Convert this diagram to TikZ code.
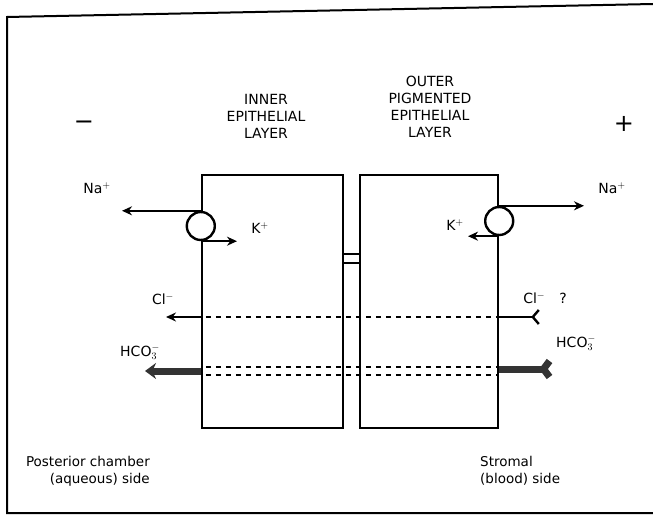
\documentclass[tikz,border=0pt]{standalone}
\usepackage{fontspec}
\setmainfont{DejaVu Sans}
\usepackage{tikz}
\usetikzlibrary{arrows.meta, positioning, calc}

\begin{document}
\begin{tikzpicture}[
  x=1pt, y=-1pt,
  layer/.style={
    rectangle, draw, line width=2.4pt,
    minimum width=141pt, minimum height=253pt,
    inner sep=0pt
  },
  pump/.style={circle, draw, line width=2.4pt, minimum size=28pt, inner sep=0pt, fill=white},
  ion/.style={font=\fontsize{14}{16}\selectfont, inner sep=1pt},
  head/.style={font=\fontsize{14}{17}\selectfont, align=center, inner sep=0pt},
  side/.style={font=\fontsize{13.5}{17.5}\selectfont, inner sep=0pt},
  arr/.style={-{Stealth[length=10pt, width=9pt]}, line width=2.4pt},
  leak/.style={dashed, dash pattern=on 5pt off 5pt, line width=2pt},
  tail/.style={{Straight Barb[reversed, length=6pt, width=14pt]}-, line width=2.4pt},
  band/.style={-{Stealth[length=11pt, width=16pt]}, line width=7pt, black!80},
  bandtail/.style={{Straight Barb[reversed, length=6pt, width=16pt]}-, line width=7pt, black!80}
]
\useasboundingbox (0,0) rectangle (653,521);

%% Frame
\draw[line width=2pt] (653,4) -- (7,17) -- (7,513) -- (653,513);

%% Polarity
\node[font=\fontsize{24}{24}\selectfont] (minus) at (84,125) {−};
\node[font=\fontsize{24}{24}\selectfont] (plus) at (624,124) {+};

%% Layer headings
\node[head, anchor=south] (innerhd) at (266,139) {INNER\\EPITHELIAL\\LAYER};
\node[head, anchor=south] (outerhd) at (430,138) {OUTER\\PIGMENTED\\EPITHELIAL\\LAYER};

%% Epithelial layers
\node[layer] (inner) at (272.5,301.5) {};
\node[layer, minimum width=138pt] (outer) at (429,301.5) {};

%% Intercellular slot
\draw[line width=2.4pt] (inner.north east |- 0,254) -- (outer.north west |- 0,254);
\draw[line width=2.4pt] (inner.north east |- 0,263) -- (outer.north west |- 0,263);

%% Na/K pumps
\node[pump] (pumpL) at (inner.west |- 0,226) {};
\node[pump] (pumpR) at (outer.east |- 0,221) {};

\coordinate (naLend) at (pumpL.north -| 122,0);
\coordinate (kLend)  at (pumpL.south -| 237,0);
\coordinate (naRend) at (pumpR.north -| 584,0);
\coordinate (kRend)  at (pumpR.south -| 468,0);

\draw[arr] (pumpL.north) -- (naLend);
\draw[arr] (pumpL.south) -- (kLend);
\draw[arr] (pumpR.north) -- (naRend);
\draw[arr] (pumpR.south) -- (kRend);

\node[ion] (naL) at (97,188) {Na$^{+}$};
\node[ion] (kL)  at (260,228) {K$^{+}$};
\node[ion] (naR) at (612,188) {Na$^{+}$};
\node[ion] (kR)  at (455,225) {K$^{+}$};

%% Chloride
\coordinate (clA) at (inner.west |- 0,317);
\coordinate (clB) at (outer.east |- 0,317);
\coordinate (clLend) at (166,317);
\coordinate (clRend) at (540,317);
\draw[leak] ($(clA)+(5,0)$) -- (clB);
\draw[arr] (clA) -- (clLend);
\draw[tail] (clRend) -- (clB);
\node[ion] (clL) at (163,299) {Cl$^{-}$};
\node[ion] (clR) at (545,298) {Cl$^{-}$\quad ?};

%% Bicarbonate
\coordinate (hcA) at (inner.west |- 0,371);
\coordinate (hcB) at (outer.east |- 0,371);
\coordinate (hcLend) at (145,371);
\coordinate (hcRend) at (553,369);
\draw[leak] ($(hcA)+(5,-4)$) -- ($(hcB)+(0,-4)$);
\draw[leak] ($(hcA)+(5,4)$) -- ($(hcB)+(0,4)$);
\draw[band] (hcA) -- (hcLend);
\draw[bandtail] (hcRend) -- (hcB |- hcRend);
\node[ion] (hcL) at (140,352) {HCO$_{3}^{-}$};
\node[ion] (hcR) at (576,343) {HCO$_{3}^{-}$};

%% Sides
\node[side, align=right, anchor=north east] (aqueous) at (150,456) {Posterior chamber\\(aqueous) side};
\node[side, align=left, anchor=north west] (stroma) at (480,456) {Stromal\\(blood) side};

\end{tikzpicture}
\end{document}
